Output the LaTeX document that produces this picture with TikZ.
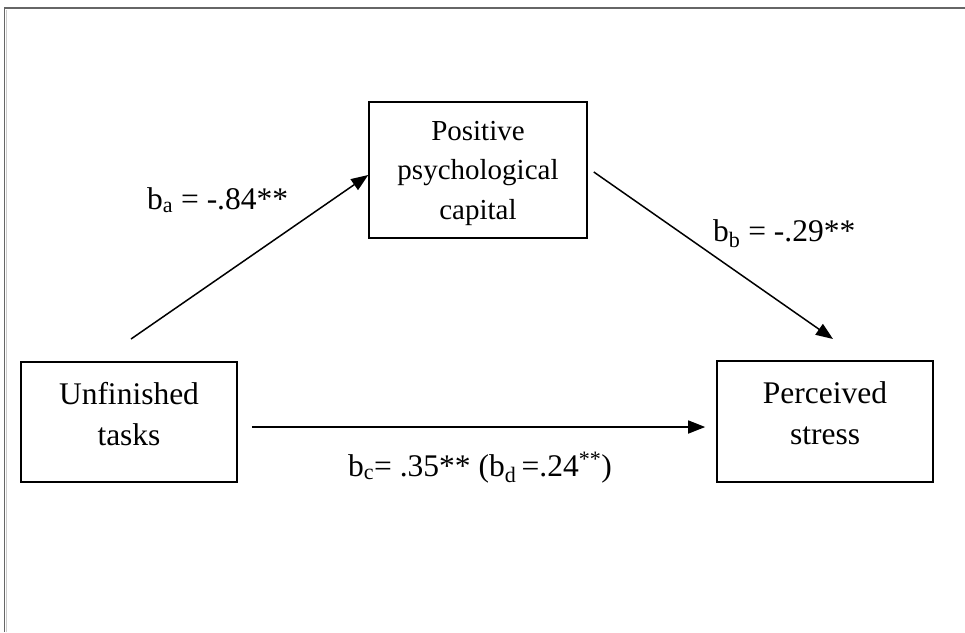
\documentclass[tikz,border=0pt]{standalone}
\usepackage{fontspec}
\setmainfont{Liberation Serif}
\usetikzlibrary{arrows.meta}
\begin{document}
\begin{tikzpicture}[x=1pt,y=-1pt,
  box/.style={draw=black,line width=1.6pt,minimum width=#1,inner sep=0pt},
  boxtext/.style={align=center,font=\fontsize{29}{39.5}\selectfont,inner sep=0pt},
  bigtext/.style={align=center,font=\fontsize{31.5}{41}\selectfont,inner sep=0pt},
  lab/.style={font=\fontsize{31.5}{36}\selectfont,inner sep=0pt},
  conn/.style={line width=1.5pt,-{Triangle[length=17pt,width=13pt]}},
  frame/.style={draw=black!60,line width=1.5pt}]
\useasboundingbox (0,0) rectangle (965,632);
\fill[white] (0,0) rectangle (965,632);
% page frame
\draw[frame] (4.5,632) -- (4.5,8) -- (965,8);
\draw[black!20,line width=1pt] (6.5,632) -- (6.5,9.5);
% boxes
\node[box=218pt,minimum height=136pt] (pc) at (478,170) {};
\node[box=216pt,minimum height=120pt] (ut) at (129,422) {};
\node[box=216pt,minimum height=121pt] (ps) at (825,421.5) {};
\node[boxtext] (pct) at ([yshift=-3pt]pc.center) {Positive\\psychological\\capital};
\node[bigtext] (utt) at ([yshift=8pt]ut.center) {Unfinished\\tasks};
\node[bigtext] (pst) at ([yshift=8pt]ps.center) {Perceived\\stress};
% connector end points
\coordinate (a0) at (131,339);
\coordinate (b1) at (833,339);
\coordinate (b0) at ([xshift=6pt,yshift=-2pt]pc.east);
\coordinate (c0) at ([xshift=14pt,yshift=-5pt]ut.east);
\coordinate (c1) at ([xshift=-11pt,yshift=-5.5pt]ps.west);
\draw[conn] (a0) -- ([yshift=-5pt]pc.west);
\draw[conn] (b0) -- (b1);
\draw[conn] (c0) -- (c1);
% labels
\node[lab,anchor=base west] (la) at (147,209) {b\textsubscript{a} = -.84**};
\node[lab,anchor=base west] (lb) at (713,241) {b\textsubscript{b} = -.29**};
\node[lab,anchor=base] (lc) at (480,476) {b\textsubscript{c}= .35** (b\textsubscript{d}\,=.24\textsuperscript{**})};
\end{tikzpicture}
\end{document}
